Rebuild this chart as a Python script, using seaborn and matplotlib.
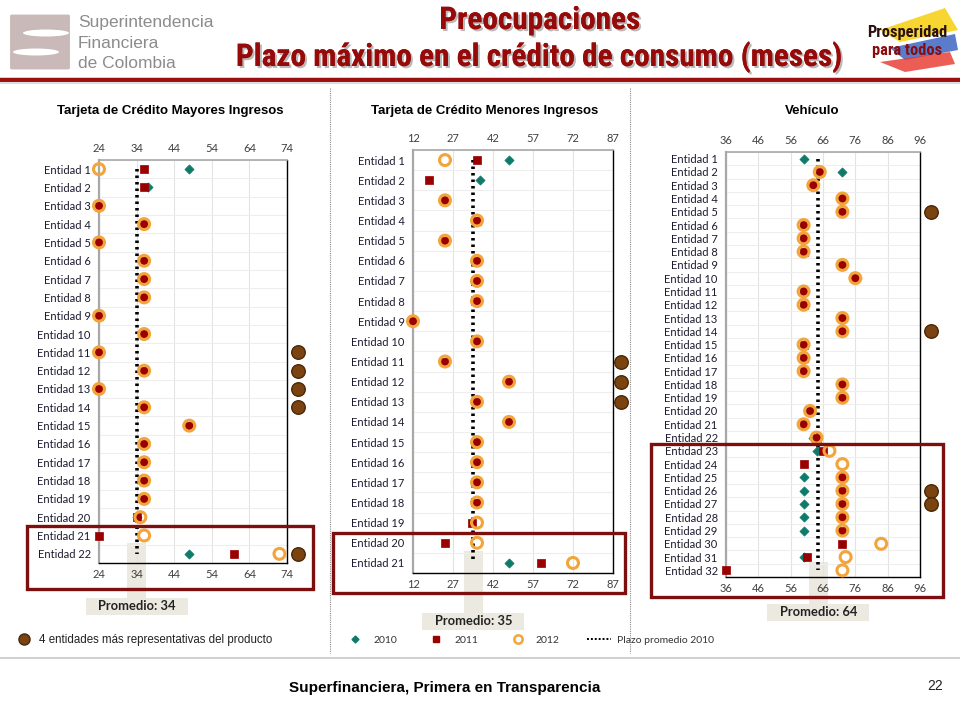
import numpy as np
import pandas as pd
import matplotlib
matplotlib.use("Agg")
import matplotlib.pyplot as plt
import matplotlib.patches as mpatches
import matplotlib.patheffects as pe
from matplotlib.lines import Line2D
import seaborn as sns

nan = np.nan

# ---- data (months) ----
ent_mayores = [f"Entidad {i}" for i in range(1, 23)]
y2010_mayores = [48, 37, 24, 36, 24, 36, 36, 36, 24, 36, 24, 36, 24, 36, 48, 36, 36, 36, 36, 34, nan, 48]
y2011_mayores = [36, 36, 24, 36, 24, 36, 36, 36, 24, 36, 24, 36, 24, 36, 48, 36, 36, 36, 36, 34, 24, 60]
y2012_mayores = [24, nan, 24, 36, 24, 36, 36, 36, 24, 36, 24, 36, 24, 36, 48, 36, 36, 36, 36, 35, 36, 72]

ent_menores = [f"Entidad {i}" for i in range(1, 22)]
y2010_menores = [48, 37, 24, 36, 24, 36, 36, 36, 12, 36, 24, 48, 36, 48, 36, 36, 36, 36, nan, nan, 48]
y2011_menores = [36, 18, 24, 36, 24, 36, 36, 36, 12, 36, 24, 48, 36, 48, 36, 36, 36, 36, 34, 24, 60]
y2012_menores = [24, nan, 24, 36, 24, 36, 36, 36, 12, 36, 24, 48, 36, 48, 36, 36, 36, 36, 36, 36, 72]

ent_vehiculo = [f"Entidad {i}" for i in range(1, 33)]
y2010_vehiculo = [60, 72, 63, 72, 72, 60, 60, 60, 72, 76, 60, 60, 72, 72, 60, 60,
                  60, 72, 72, 62, 60, 63, 64, nan, 60, 60, 60, 60, 60, nan, 60, nan]
y2011_vehiculo = [nan, 65, 63, 72, 72, 60, 60, 60, 72, 76, 60, 60, 72, 72, 60, 60,
                  60, 72, 72, 62, 60, 64, 66, 60, 72, 72, 72, 72, 72, 72, 61, 36]
y2012_vehiculo = [nan, 65, 63, 72, 72, 60, 60, 60, 72, 76, 60, 60, 72, 72, 60, 60,
                  60, 72, 72, 62, 60, 64, 68, 72, 72, 72, 72, 72, 72, 84, 73, 72]

# average term 2010 and the label shown under each panel
promedio = [34, 34.6, 64.6]
promedio_txt = ["Promedio: 34", "Promedio: 35", "Promedio: 64"]

# four most representative entities per product
rep_mayores = [11, 12, 13, 14, 22]
rep_menores = [11, 12, 13]
rep_vehiculo = [5, 14, 26, 27]

# highlighted (boxed) entities
box_mayores = [21, 22]
box_menores = [20, 21]
box_vehiculo = list(range(23, 33))

titles = ["Tarjeta de Crédito Mayores Ingresos", "Tarjeta de Crédito Menores Ingresos", "Vehículo"]
xticks = [[24, 34, 44, 54, 64, 74], [12, 27, 42, 57, 72, 87], [36, 46, 56, 66, 76, 86, 96]]

# ---- style ----
sns.set_theme(style="white")
plt.rcParams["font.family"] = ["Liberation Sans", "DejaVu Sans"]
NARROW = ["Roboto Condensed", "DejaVu Sans Condensed", "Liberation Sans"]

C2010 = "#0f7a6a"
C2011 = "#9a0000"
C2012 = "#f3a43a"
CREP = "#7a4310"
DKRED = "#7d0f0f"

fig = plt.figure(figsize=(9.6, 7.2), dpi=100)
W, H = 960.0, 720.0


def fx(px):
    return px / W


def fy(py):
    return 1 - py / H


panels = [
    dict(ent=ent_mayores, v=[y2010_mayores, y2011_mayores, y2012_mayores], rep=rep_mayores,
         box=box_mayores, rect=(99, 160, 287, 563), rep_x=1.06,
         boxpx=(27, 313, 589), shade_bot=598, lab_y=606, title_x=170),
    dict(ent=ent_menores, v=[y2010_menores, y2011_menores, y2012_menores], rep=rep_menores,
         box=box_menores, rect=(413, 150, 613, 573), rep_x=1.04,
         boxpx=(333, 625, 593), shade_bot=613, lab_y=621, title_x=485),
    dict(ent=ent_vehiculo, v=[y2010_vehiculo, y2011_vehiculo, y2012_vehiculo], rep=rep_vehiculo,
         box=box_vehiculo, rect=(726, 152, 920, 577), rep_x=1.057,
         boxpx=(651, 943, 597), shade_bot=605, lab_y=612, title_x=812),
]

for k, p in enumerate(panels):
    l, t, r, b = p["rect"]
    ax = fig.add_axes([fx(l), fy(b), fx(r - l), (b - t) / H])
    ax.patch.set_alpha(0)
    n = len(p["ent"])
    df = pd.DataFrame({"pos": np.arange(n), "entidad": p["ent"],
                       "2010": p["v"][0], "2011": p["v"][1], "2012": p["v"][2]})

    ax.vlines(promedio[k], 0, n - 1, colors="black", linestyles=(0, (0.7, 1.1)),
              linewidth=2.6, zorder=2)
    sns.scatterplot(data=df, x="2010", y="pos", marker="D", s=22, color=C2010,
                    edgecolor=C2010, linewidth=0.5, ax=ax, zorder=3, clip_on=False)
    sns.scatterplot(data=df, x="2011", y="pos", marker="s", s=34, color=C2011,
                    edgecolor=C2011, linewidth=0.5, ax=ax, zorder=4, clip_on=False)
    sns.scatterplot(data=df, x="2012", y="pos", marker="o", s=62, color="none",
                    edgecolor=C2012, linewidth=2.2, ax=ax, zorder=5, clip_on=False)

    # representative entities, outside the plot area
    rep_pos = [e - 1 for e in p["rep"]]
    ax.scatter([p["rep_x"]] * len(rep_pos), rep_pos, s=95, color=CREP, edgecolor="#4a2806",
               linewidth=1, transform=ax.get_yaxis_transform(), clip_on=False, zorder=6)

    ax.set_xlim(xticks[k][0], xticks[k][-1])
    ax.set_ylim(n - 0.5, -0.5)
    ax.set_xticks(xticks[k])
    ax.set_yticks(df["pos"])
    ax.set_yticklabels(df["entidad"])
    ax.set_yticks(np.arange(n + 1) - 0.5, minor=True)
    ax.set_xlabel("")
    ax.set_ylabel("")
    ax.tick_params(axis="x", which="both", length=0, labeltop=True, labelbottom=True,
                   labelsize=8, labelcolor="#404040", pad=4)
    ax.tick_params(axis="y", which="major", length=0, labelsize=8, labelcolor="#1c1c30", pad=6)
    ax.tick_params(axis="y", which="minor", length=4, color="#9a9a9a", width=1)
    for lab in ax.get_xticklabels() + ax.get_yticklabels():
        lab.set_fontfamily(["Lato", "DejaVu Sans"])
    ax.grid(axis="x", color="#e3e3e3", linewidth=0.8)
    ax.grid(axis="y", which="minor", color="#eeeeee", linewidth=0.8)
    ax.spines["left"].set_color("#a8a8a8")
    ax.spines["left"].set_linewidth(1.6)
    ax.spines["top"].set_color("#a8a8a8")
    ax.spines["top"].set_linewidth(1.2)
    ax.spines["right"].set_color("black")
    ax.spines["bottom"].set_color("black")
    ax.spines["right"].set_linewidth(1.0)
    ax.spines["bottom"].set_linewidth(1.0)

    # shaded stem and label for the average
    fig.canvas.draw()
    xa = fig.transFigure.inverted().transform(ax.transData.transform((promedio[k], 0)))[0]
    y_top = fig.transFigure.inverted().transform(ax.transData.transform((0, n - 1.6)))[1]
    fig.add_artist(mpatches.Rectangle((xa - fx(9.5), fy(p["shade_bot"])), fx(19),
                                      y_top - fy(p["shade_bot"]), facecolor="#ece9e0",
                                      edgecolor="none", zorder=-1))
    fig.add_artist(mpatches.Rectangle((xa - fx(51), fy(p["lab_y"] + 8.5)), fx(102), 17 / H,
                                      facecolor="#ece9e0", edgecolor="none", zorder=-1))
    fig.text(xa, fy(p["lab_y"]), promedio_txt[k], ha="center", va="center", fontsize=9.3,
             fontweight="bold", color="#222222", family=["Lato", "DejaVu Sans"], zorder=1)

    # highlight box around the last entities
    y_box = fig.transFigure.inverted().transform(ax.transData.transform((0, p["box"][0] - 1.5)))[1]
    x0, x1, ybot = p["boxpx"]
    fig.add_artist(mpatches.Rectangle((fx(x0), fy(ybot)), fx(x1 - x0), y_box - fy(ybot),
                                      facecolor="none", edgecolor=DKRED, linewidth=2.4, zorder=8))

    fig.text(fx(p["title_x"]), fy(111), titles[k], ha="center", va="center",
             fontsize=9.5, fontweight="bold", color="black")

# separators and rules
for xs in (330, 630):
    fig.add_artist(Line2D([fx(xs), fx(xs)], [fy(88), fy(653)], color="#8a8a8a",
                          linewidth=0.8, linestyle=(0, (1, 1))))
fig.add_artist(Line2D([0, 1], [fy(658), fy(658)], color="#c8c8c8", linewidth=1.2))
fig.add_artist(Line2D([0, 1], [fy(80), fy(80)], color="#9a1010", linewidth=3.2))
fig.add_artist(Line2D([0, 1], [fy(83), fy(83)], color="#dcdcdc", linewidth=1.5))

# header titles
shadow = [pe.withSimplePatchShadow(offset=(1.5, -1.5), shadow_rgbFace="#777777", alpha=0.5),
          pe.Normal()]
fig.text(fx(540), fy(20), "Preocupaciones", ha="center", va="center", fontsize=22.5,
         fontweight="bold", color="#960a0a", family=NARROW, path_effects=shadow)
fig.text(fx(540), fy(57), "Plazo máximo en el crédito de consumo (meses)", ha="center",
         va="center", fontsize=22.5, fontweight="bold", color="#960a0a",
         family=NARROW, path_effects=shadow)

# left logo
fig.add_artist(mpatches.FancyBboxPatch((fx(12), fy(68)), fx(56), fy(16) - fy(68),
                                       boxstyle="round,pad=0.002", facecolor="#c9b9b9",
                                       edgecolor="none"))
for yy, xc in ((33, 46), (52, 36)):
    fig.add_artist(mpatches.Ellipse((fx(xc), fy(yy)), fx(46), 7 / H, facecolor="white",
                                    edgecolor="none"))
for i, s in enumerate(["Superintendencia", "Financiera", "de Colombia"]):
    fig.text(fx(78), fy(23 + 20 * i), s, ha="left", va="center", fontsize=12.5,
             color="#8c8c8c")

# right logo
fig.add_artist(mpatches.Polygon([[fx(880), fy(30)], [fx(945), fy(8)], [fx(958), fy(30)],
                                 [fx(900), fy(42)]], closed=True, facecolor="#f7d21b",
                                edgecolor="none", alpha=0.9))
fig.add_artist(mpatches.Polygon([[fx(890), fy(48)], [fx(955), fy(34)], [fx(958), fy(50)],
                                 [fx(905), fy(60)]], closed=True, facecolor="#2f5cc0",
                                edgecolor="none", alpha=0.8))
fig.add_artist(mpatches.Polygon([[fx(880), fy(62)], [fx(950), fy(52)], [fx(955), fy(64)],
                                 [fx(905), fy(72)]], closed=True, facecolor="#e8352a",
                                edgecolor="none", alpha=0.8))
fig.text(fx(907), fy(33), "Prosperidad", ha="center", va="center", fontsize=11.8,
         fontweight="bold", color="#2a1010", family=NARROW)
fig.text(fx(907), fy(50), "para todos", ha="center", va="center", fontsize=11.8,
         fontweight="bold", color="#8a0c0c", family=NARROW)

# legends
h_rep = Line2D([], [], marker="o", linestyle="none", markersize=8, color=CREP,
               markeredgecolor="#4a2806")
fig.legend([h_rep], ["4 entidades más representativas del producto"], loc="center left",
           bbox_to_anchor=(fx(2), fy(640)), frameon=False, fontsize=8.3, handletextpad=0.3,
           labelcolor="#222222")
handles = [
    Line2D([], [], marker="D", linestyle="none", markersize=3.5, color=C2010),
    Line2D([], [], marker="s", linestyle="none", markersize=5, color=C2011),
    Line2D([], [], marker="o", linestyle="none", markersize=6, markerfacecolor="none",
           markeredgecolor=C2012, markeredgewidth=1.8),
    Line2D([], [], color="black", linestyle=(0, (1, 1)), linewidth=1.4),
]
leg = fig.legend(handles, ["2010", "2011", "2012", "Plazo promedio 2010"], loc="center left",
                 bbox_to_anchor=(fx(334), fy(640)), ncol=4, frameon=False, fontsize=7.5,
                 handlelength=2.3, handletextpad=0.6, columnspacing=2.6, labelcolor="#333333")
for txt in leg.get_texts():
    txt.set_fontfamily(["Lato", "DejaVu Sans"])

# footer
fig.text(fx(445), fy(688), "Superfinanciera, Primera en Transparencia", ha="center",
         va="center", fontsize=11, fontweight="bold", color="black")
fig.text(fx(935), fy(686), "22", ha="center", va="center", fontsize=10, color="#222222")

fig.savefig("out.png", dpi=100, facecolor="white")
